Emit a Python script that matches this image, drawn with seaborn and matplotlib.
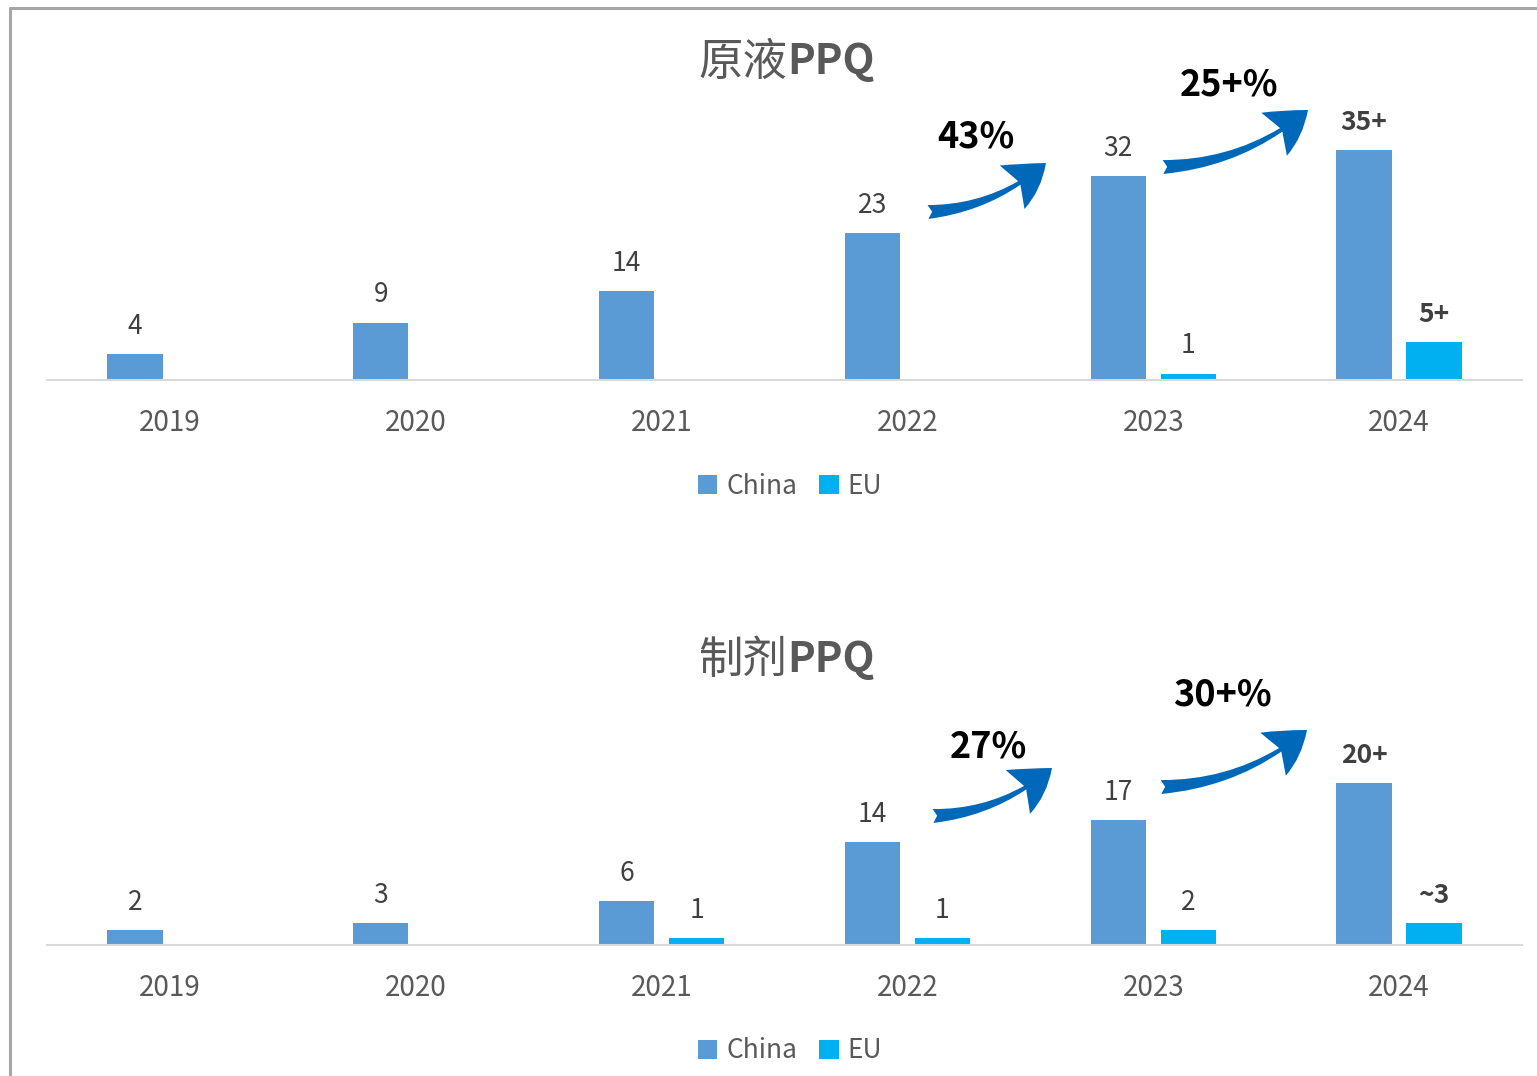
import pandas as pd
import numpy as np
import matplotlib
matplotlib.use('Agg')
import matplotlib.pyplot as plt
import seaborn as sns
from matplotlib.patches import FancyArrowPatch
from matplotlib.lines import Line2D

years = ['2019', '2020', '2021', '2022', '2023', '2024']
regions = ['China', 'EU']

# 原液 PPQ
ds_china = [4, 9, 14, 23, 32, 36]
ds_eu = [0, 0, 0, 0, 1, 6]
ds_china_labels = ['4', '9', '14', '23', '32', '35+']
ds_eu_labels = ['', '', '', '', '1', '5+']
ds_growth = ['43%', '25+%']

# 制剂 PPQ
dp_china = [2, 3, 6, 14, 17, 22]
dp_eu = [0, 0, 1, 1, 2, 3]
dp_china_labels = ['2', '3', '6', '14', '17', '20+']
dp_eu_labels = ['', '', '1', '1', '2', '~3']
dp_growth = ['27%', '30+%']

c_china = '#5B9BD5'
c_eu = '#00B0F0'
arrow_c = '#0068B8'

sns.set_style('white')
plt.rcParams['font.family'] = ['Noto Sans CJK SC', 'DejaVu Sans']

W, H = 1537, 1076
fig = plt.figure(figsize=(W / 100, H / 100), dpi=100)


def px(x, y):
    return x / W, 1 - y / H


def panel(top, base, ymax, china, eu, lab_c, lab_e, title_cn, title_y):
    ax = fig.add_axes([47 / W, 1 - base / H, 1475 / W, (base - top) / H])
    df = pd.DataFrame({'year': years * 2,
                       'region': ['China'] * 6 + ['EU'] * 6,
                       'value': china + eu})
    sns.barplot(data=df, x='year', y='value', hue='region', palette=[c_china, c_eu],
                width=0.57, gap=0.21, saturation=1, linewidth=0, ax=ax)
    ax.set_xlim(-0.5, 5.5)
    ax.set_ylim(0, ymax)
    ax.set_yticks([])
    ax.set_xlabel('')
    ax.set_ylabel('')
    for s in ['top', 'left', 'right']:
        ax.spines[s].set_visible(False)
    ax.spines['bottom'].set_color('#D9D9D9')
    ax.spines['bottom'].set_linewidth(1.5)
    ax.tick_params(axis='x', length=0, pad=20, labelsize=20, labelcolor='#595959')
    for cont, labs in zip(ax.containers, [lab_c, lab_e]):
        for bar, lab in zip(cont, labs):
            if not lab:
                continue
            bold = lab.endswith('+') or lab.startswith('~')
            ax.annotate(lab, (bar.get_x() + bar.get_width() / 2, bar.get_height()),
                        xytext=(0, 14.5), textcoords='offset points', ha='center', va='baseline',
                        fontsize=19, color='#404040', fontweight='bold' if bold else 'normal')
    lx, ly = px(790, base + 106)
    sns.move_legend(ax, 'center', bbox_to_anchor=(lx, ly), bbox_transform=fig.transFigure,
                    ncol=2, frameon=False, title=None, fontsize=19, handlelength=0.75,
                    handleheight=0.75, handletextpad=0.35, columnspacing=0.8,
                    labelcolor='#595959')
    tx, ty = px(787, title_y)
    fig.text(tx, ty, title_cn, ha='right', va='center', fontsize=32, fontweight='normal',
             color='#595959')
    fig.text(tx, ty, 'PPQ', ha='left', va='center', fontsize=30, fontweight='bold',
             color='#595959')
    return ax


def arrow(a, b):
    p = FancyArrowPatch(px(*a), px(*b), transform=fig.transFigure,
                        arrowstyle='fancy,head_length=1.5,head_width=1.8,tail_width=0.5',
                        connectionstyle='arc3,rad=0.17', mutation_scale=20,
                        shrinkA=0, shrinkB=0, color=arrow_c, lw=0)
    fig.add_artist(p)


panel(100, 380, 280 / 6.38, ds_china, ds_eu, ds_china_labels, ds_eu_labels, '原液', 62)
panel(700, 945, 245 / 7.35, dp_china, dp_eu, dp_china_labels, dp_eu_labels, '制剂', 660)

arrow((928, 212), (1046, 163))
arrow((1163, 167), (1308, 110))
arrow((933, 816), (1052, 768))
arrow((1161, 787), (1307, 730))

for txt, (x, y) in zip(ds_growth + dp_growth, [(976, 137), (1229, 85), (988, 747), (1222, 695)]):
    fx, fy = px(x, y)
    fig.text(fx, fy, txt, ha='center', va='center', fontsize=26, fontweight='bold', color='black')

# outer frame (left and top edges)
fig.add_artist(Line2D([10 / W, 10 / W], [0, 1 - 8 / H], transform=fig.transFigure,
                      color='#A6A6A6', lw=2.2))
fig.add_artist(Line2D([10 / W, 1], [1 - 8 / H, 1 - 8 / H], transform=fig.transFigure,
                      color='#A6A6A6', lw=2.2))

fig.savefig('out.png', dpi=100, facecolor='white')
